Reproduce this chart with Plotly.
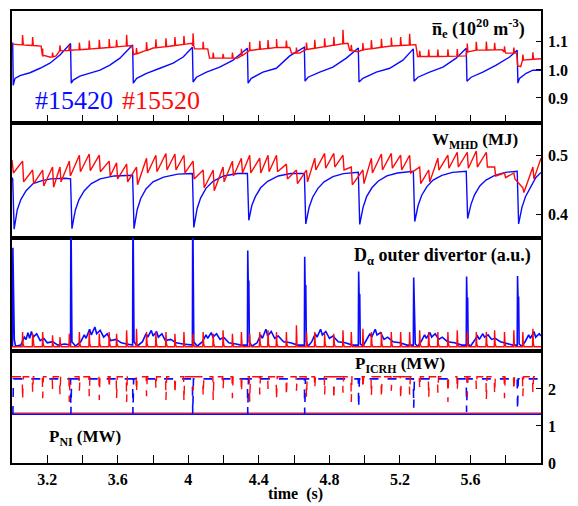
import numpy as np
import plotly.graph_objects as go
from plotly.subplots import make_subplots

# ---------------- data ----------------
# big ELM times of #15420 (blue)
elm_blue = [3.005, 3.334, 3.686, 4.025, 4.337, 4.660, 4.966, 5.278, 5.578, 5.867]
# small ELM times of #15520 (red)
elm_red = [3.060, 3.117, 3.174, 3.230, 3.272, 3.325, 3.382, 3.438, 3.495, 3.551,
           3.593, 3.650, 3.706, 3.763, 3.816, 3.873, 3.924, 3.975, 4.027, 4.084,
           4.141, 4.197, 4.250, 4.301, 4.348, 4.405, 4.452, 4.500, 4.556, 4.613,
           4.670, 4.717, 4.773, 4.825, 4.877, 4.924, 4.990, 5.038, 5.095, 5.151,
           5.204, 5.255, 5.312, 5.363, 5.415, 5.472, 5.525, 5.582, 5.633, 5.690,
           5.737, 5.793, 5.846, 5.897, 5.954]

# line-averaged density, #15420
ne_blue_t = [3.000, 3.004, 3.007, 3.017, 3.045, 3.102, 3.159, 3.215, 3.272, 3.332,
             3.336, 3.347, 3.385, 3.442, 3.499, 3.555, 3.612, 3.684,
             3.688, 3.707, 3.763, 3.839, 3.914, 3.971, 4.023,
             4.027, 4.046, 4.103, 4.178, 4.254, 4.335,
             4.339, 4.357, 4.423, 4.499, 4.575, 4.658,
             4.662, 4.679, 4.745, 4.820, 4.896, 4.964,
             4.968, 4.990, 5.066, 5.142, 5.217, 5.276,
             5.280, 5.302, 5.368, 5.444, 5.519, 5.576,
             5.580, 5.604, 5.670, 5.746, 5.822, 5.865,
             5.869, 5.878, 5.916, 5.954, 6.000]
ne_blue_v = [1.095, 1.095, 0.945, 0.970, 0.980, 0.990, 1.006, 1.024, 1.053, 1.094,
             0.953, 0.964, 0.978, 0.988, 0.999, 1.017, 1.042, 1.089,
             0.953, 0.970, 0.988, 1.006, 1.024, 1.046, 1.081,
             0.957, 0.974, 0.992, 1.010, 1.035, 1.077,
             0.953, 0.970, 0.992, 1.006, 1.050, 1.081,
             0.960, 0.974, 0.992, 1.010, 1.042, 1.078,
             0.957, 0.970, 0.992, 1.006, 1.035, 1.075,
             0.960, 0.974, 0.992, 1.010, 1.042, 1.077,
             0.960, 0.974, 0.992, 1.017, 1.046, 1.070,
             0.953, 0.970, 0.988, 0.999, 0.999]

# line-averaged density, #15520 (baseline + ELM spikes)
ne_red_t = [3.00, 3.09, 3.165, 3.175, 3.22, 3.25, 3.27, 3.33, 3.45, 3.55, 3.68, 3.69,
            3.72, 3.80, 3.90, 4.02, 4.035, 4.11, 4.12, 4.28, 4.30, 4.35, 4.50, 4.575,
            4.585, 4.63, 4.66, 4.75, 4.87, 4.905, 4.915, 4.96, 5.00, 5.15, 5.29, 5.30,
            5.45, 5.575, 5.585, 5.78, 5.80, 5.862, 5.868, 5.885, 5.895, 6.00]
ne_red_v = [1.092, 1.088, 1.085, 1.048, 1.045, 1.050, 1.068, 1.070, 1.075, 1.080, 1.087, 1.055,
            1.060, 1.078, 1.085, 1.095, 1.075, 1.075, 1.042, 1.042, 1.050, 1.070, 1.080, 1.080,
            1.060, 1.060, 1.072, 1.080, 1.093, 1.095, 1.070, 1.065, 1.073, 1.085, 1.090, 1.048,
            1.048, 1.050, 1.070, 1.072, 1.060, 1.060, 1.015, 1.012, 1.035, 1.040]
ne_red_spike = [0.035, 0.030, 0.025, 0.015, 0.020, 0.020, 0.025, 0.030, 0.030, 0.030,
                0.025, 0.040, 0.020, 0.030, 0.030, 0.030, 0.030, 0.030, 0.045, 0.025,
                0.020, 0.015, 0.020, 0.025, 0.030, 0.030, 0.030, 0.030, 0.025, 0.020,
                0.025, 0.030, 0.030, 0.030, 0.050, 0.020, 0.025, 0.030, 0.030, 0.030,
                0.030, 0.040, 0.020, 0.025, 0.025, 0.025, 0.025, 0.030, 0.030, 0.030,
                0.025, 0.020, 0.020, 0.020, 0.025]

# stored energy, #15420
w_blue_t = [3.000, 3.004, 3.012, 3.020, 3.030, 3.050, 3.080, 3.120, 3.170, 3.220, 3.300, 3.332,
            3.340, 3.350, 3.360, 3.380, 3.410, 3.450, 3.500, 3.580, 3.684,
            3.692, 3.700, 3.710, 3.730, 3.760, 3.800, 3.860, 3.940, 4.023,
            4.031, 4.040, 4.050, 4.070, 4.100, 4.140, 4.200, 4.280, 4.335,
            4.343, 4.350, 4.360, 4.380, 4.410, 4.450, 4.510, 4.580, 4.658,
            4.666, 4.675, 4.685, 4.705, 4.735, 4.770, 4.820, 4.880, 4.964,
            4.972, 4.981, 4.991, 5.011, 5.041, 5.076, 5.126, 5.186, 5.276,
            5.284, 5.293, 5.303, 5.323, 5.353, 5.388, 5.438, 5.498, 5.576,
            5.584, 5.593, 5.603, 5.623, 5.653, 5.688, 5.738, 5.798, 5.865,
            5.873, 5.882, 5.892, 5.912, 5.942, 5.970, 6.000]
w_blue_v = [0.462, 0.460, 0.375, 0.392, 0.408, 0.425, 0.440, 0.452, 0.457, 0.460, 0.461, 0.460,
            0.376, 0.393, 0.408, 0.425, 0.440, 0.452, 0.460, 0.465, 0.466,
            0.376, 0.393, 0.408, 0.427, 0.443, 0.455, 0.463, 0.468, 0.469,
            0.378, 0.395, 0.410, 0.428, 0.444, 0.456, 0.465, 0.469, 0.469,
            0.390, 0.403, 0.415, 0.430, 0.445, 0.456, 0.465, 0.469, 0.469,
            0.384, 0.398, 0.412, 0.429, 0.444, 0.455, 0.464, 0.469, 0.471,
            0.383, 0.398, 0.412, 0.430, 0.445, 0.456, 0.465, 0.470, 0.473,
            0.388, 0.402, 0.415, 0.432, 0.447, 0.458, 0.466, 0.471, 0.473,
            0.393, 0.405, 0.417, 0.433, 0.448, 0.458, 0.466, 0.471, 0.473,
            0.384, 0.398, 0.412, 0.430, 0.448, 0.462, 0.471]

# stored energy, #15520: value just before (peak) and after (trough) each small ELM
w_red_start = [0.492, 0.470]
w_red_peak = [0.490, 0.475, 0.475, 0.480, 0.480, 0.490, 0.500, 0.502, 0.500, 0.490,
              0.487, 0.485, 0.480, 0.495, 0.500, 0.503, 0.502, 0.500, 0.490, 0.475,
              0.475, 0.480, 0.490, 0.495, 0.500, 0.495, 0.500, 0.500, 0.485, 0.475,
              0.475, 0.495, 0.503, 0.503, 0.500, 0.480, 0.475, 0.495, 0.502, 0.503,
              0.500, 0.500, 0.480, 0.475, 0.495, 0.500, 0.505, 0.505, 0.507, 0.505,
              0.480, 0.470, 0.470, 0.445, 0.480]
w_red_trough = [0.455, 0.452, 0.448, 0.446, 0.455, 0.465, 0.472, 0.474, 0.472, 0.465,
                0.460, 0.455, 0.450, 0.470, 0.472, 0.475, 0.475, 0.470, 0.460, 0.445,
                0.440, 0.455, 0.465, 0.470, 0.470, 0.470, 0.472, 0.472, 0.460, 0.452,
                0.455, 0.475, 0.478, 0.480, 0.475, 0.450, 0.452, 0.470, 0.475, 0.478,
                0.475, 0.470, 0.452, 0.455, 0.475, 0.478, 0.480, 0.478, 0.480, 0.480,
                0.465, 0.462, 0.460, 0.437, 0.460]
w_red_end = 0.495

# D-alpha outer divertor, #15420 (a.u.)
da_blue_t = [3.000, 3.003, 3.005, 3.008, 3.010, 3.013, 3.020, 3.050, 3.070, 3.080, 3.090, 3.100,
             3.110, 3.120, 3.140, 3.160, 3.180, 3.200, 3.230, 3.260, 3.300, 3.332,
             3.334, 3.337, 3.340, 3.360, 3.390, 3.410, 3.420, 3.440, 3.450, 3.470, 3.480,
             3.500, 3.520, 3.540, 3.560, 3.590, 3.620, 3.650, 3.684,
             3.686, 3.689, 3.692, 3.710, 3.740, 3.760, 3.770, 3.790, 3.800, 3.820, 3.830,
             3.850, 3.870, 3.900, 3.930, 3.970, 4.023,
             4.025, 4.028, 4.031, 4.050, 4.080, 4.100, 4.110, 4.130, 4.140, 4.160, 4.180,
             4.200, 4.230, 4.270, 4.300, 4.335,
             4.337, 4.340, 4.343, 4.346, 4.360, 4.390, 4.410, 4.420, 4.440, 4.450, 4.470,
             4.490, 4.510, 4.540, 4.580, 4.620, 4.658,
             4.660, 4.663, 4.666, 4.669, 4.680, 4.700, 4.720, 4.730, 4.750, 4.760, 4.780,
             4.800, 4.820, 4.850, 4.890, 4.930, 4.964,
             4.966, 4.969, 4.972, 4.975, 4.990, 5.010, 5.030, 5.040, 5.060, 5.070, 5.090,
             5.110, 5.130, 5.160, 5.200, 5.240, 5.276,
             5.278, 5.281, 5.284, 5.287, 5.300, 5.320, 5.340, 5.350, 5.370, 5.380, 5.400,
             5.420, 5.440, 5.470, 5.510, 5.550, 5.576,
             5.578, 5.581, 5.584, 5.587, 5.600, 5.620, 5.640, 5.650, 5.670, 5.680, 5.700,
             5.720, 5.740, 5.770, 5.810, 5.840, 5.865,
             5.867, 5.870, 5.873, 5.876, 5.890, 5.910, 5.930, 5.940, 5.960, 5.970, 5.990, 6.000]
da_blue_v = [0.050, 0.050, 0.910, 0.600, 0.660, 0.100, 0.040, 0.050, 0.120, 0.100, 0.160, 0.110,
             0.170, 0.120, 0.150, 0.090, 0.110, 0.070, 0.080, 0.050, 0.060, 0.050,
             1.300, 0.700, 0.080, 0.040, 0.080, 0.140, 0.110, 0.190, 0.140, 0.210, 0.150,
             0.180, 0.120, 0.150, 0.090, 0.100, 0.070, 0.060, 0.050,
             1.300, 0.700, 0.080, 0.040, 0.080, 0.150, 0.120, 0.180, 0.130, 0.170, 0.120,
             0.150, 0.090, 0.100, 0.070, 0.060, 0.050,
             1.300, 0.700, 0.080, 0.040, 0.080, 0.140, 0.110, 0.160, 0.120, 0.150, 0.100,
             0.120, 0.070, 0.060, 0.050, 0.050,
             0.885, 0.550, 0.620, 0.080, 0.040, 0.070, 0.140, 0.110, 0.190, 0.130, 0.170,
             0.110, 0.130, 0.080, 0.070, 0.050, 0.050,
             0.830, 0.500, 0.580, 0.080, 0.040, 0.080, 0.150, 0.120, 0.190, 0.140, 0.170,
             0.110, 0.130, 0.080, 0.070, 0.050, 0.050,
             0.700, 0.450, 0.500, 0.060, 0.040, 0.090, 0.150, 0.120, 0.190, 0.140, 0.160,
             0.100, 0.120, 0.080, 0.070, 0.050, 0.050,
             0.646, 0.420, 0.460, 0.060, 0.040, 0.080, 0.140, 0.110, 0.160, 0.120, 0.150,
             0.100, 0.120, 0.080, 0.070, 0.050, 0.050,
             0.655, 0.420, 0.470, 0.060, 0.040, 0.080, 0.130, 0.100, 0.150, 0.120, 0.140,
             0.100, 0.110, 0.080, 0.060, 0.050, 0.050,
             0.660, 0.440, 0.480, 0.060, 0.040, 0.080, 0.140, 0.110, 0.170, 0.120, 0.150, 0.130]

# D-alpha, #15520: spike heights at its small ELMs, and the baseline
da_red_base = 0.035
da_red_peak = [0.165, 0.150, 0.165, 0.136, 0.120, 0.150, 0.165, 0.165, 0.150, 0.165,
               0.150, 0.180, 0.195, 0.165, 0.165, 0.165, 0.150, 0.165, 0.150, 0.165,
               0.150, 0.180, 0.150, 0.165, 0.150, 0.165, 0.180, 0.165, 0.165, 0.224,
               0.165, 0.165, 0.150, 0.150, 0.180, 0.165, 0.195, 0.165, 0.165, 0.165,
               0.165, 0.165, 0.180, 0.165, 0.165, 0.165, 0.180, 0.165, 0.165, 0.165,
               0.180, 0.165, 0.180, 0.165, 0.195]

# heating powers (MW)
p_ni_blue = 1.32
p_ni_red = 1.35
p_icrh_blue_level = 2.27
p_icrh_blue_dip = [1.33, 1.33, 1.33, 1.33, 1.33, 1.49, 1.49, 1.38, 1.43]   # at elm_blue[1:]
p_icrh_red_level = 2.33
p_icrh_red_dip = [1.70, 1.90, 1.75, 2.00, 1.85, 1.65, 1.95, 1.80, 1.70, 2.00,
                  1.75, 1.65, 1.90, 1.80, 2.00, 1.70, 1.85, 1.65, 1.95, 1.80,
                  1.70, 2.00, 1.75, 1.90, 1.65, 1.85, 2.00, 1.70, 1.80, 1.95,
                  1.75, 2.00, 1.85, 1.70, 1.90, 1.65, 2.00, 1.80, 1.75, 1.95,
                  1.70, 1.85, 2.00, 1.75, 1.90, 1.65, 1.95, 1.80, 2.00, 1.70,
                  1.85, 1.75, 1.95, 1.80, 1.90]

x_ticks = [3.2, 3.4, 3.6, 3.8, 4.0, 4.2, 4.4, 4.6, 4.8, 5.0, 5.2, 5.4, 5.6, 5.8]
x_tick_text = ["3.2", "", "3.6", "", "4", "", "4.4", "", "4.8", "", "5.2", "", "5.6", ""]

# ---------------- build traces ----------------
BLUE = "#0a0aff"
RED = "#ff0a0a"


def with_spikes(bt, bv, times, heights, before=0.002, after=0.004):
    """insert narrow spikes of given heights on top of a baseline"""
    pts = list(zip(bt, bv))
    for t, h in zip(times, heights):
        b = float(np.interp(t, bt, bv))
        pts += [(t - before, b), (t, b + h), (t + after, b)]
    pts.sort(key=lambda p: p[0])
    return [p[0] for p in pts], [p[1] for p in pts]


ne_r_x, ne_r_y = with_spikes(ne_red_t, ne_red_v, elm_red, ne_red_spike)

w_r_x = [3.000, 3.008]
w_r_y = list(w_red_start)
for t, pk, tr in zip(elm_red, w_red_peak, w_red_trough):
    w_r_x += [t, t + 0.006]
    w_r_y += [pk, tr]
w_r_x.append(6.0)
w_r_y.append(w_red_end)

da_r_x, da_r_y = [3.0], [da_red_base]
for t, h in zip(elm_red, da_red_peak):
    da_r_x += [t - 0.002, t, t + 0.003, t + 0.008]
    da_r_y += [da_red_base, h, 0.06, da_red_base]
da_r_x.append(6.0)
da_r_y.append(da_red_base)

ic_r_x, ic_r_y = [3.0], [p_icrh_red_level]
for t, d in zip(elm_red, p_icrh_red_dip):
    ic_r_x += [t - 0.002, t, t + 0.004]
    ic_r_y += [p_icrh_red_level, d, p_icrh_red_level]
ic_r_x.append(6.0)
ic_r_y.append(p_icrh_red_level)

ic_b_x, ic_b_y = [3.0, elm_blue[0], elm_blue[0] + 0.003], [p_ni_blue, p_ni_blue, p_icrh_blue_level]
for t, d in zip(elm_blue[1:], p_icrh_blue_dip):
    ic_b_x += [t - 0.002, t, t + 0.004]
    ic_b_y += [p_icrh_blue_level, d, p_icrh_blue_level]
ic_b_x.append(6.0)
ic_b_y.append(p_icrh_blue_level)

fig = make_subplots(rows=4, cols=1, shared_xaxes=True, vertical_spacing=0,
                    row_heights=[112, 114, 113, 112])

lw = 1.4
fig.add_trace(go.Scatter(x=ne_blue_t, y=ne_blue_v, mode="lines", line=dict(color=BLUE, width=lw)), 1, 1)
fig.add_trace(go.Scatter(x=ne_r_x, y=ne_r_y, mode="lines", line=dict(color=RED, width=lw)), 1, 1)
fig.add_trace(go.Scatter(x=w_blue_t, y=w_blue_v, mode="lines", line=dict(color=BLUE, width=lw)), 2, 1)
fig.add_trace(go.Scatter(x=w_r_x, y=w_r_y, mode="lines", line=dict(color=RED, width=lw)), 2, 1)
fig.add_trace(go.Scatter(x=da_blue_t, y=da_blue_v, mode="lines", line=dict(color=BLUE, width=1.6)), 3, 1)
fig.add_trace(go.Scatter(x=da_r_x, y=da_r_y, mode="lines", line=dict(color=RED, width=lw)), 3, 1)
fig.add_trace(go.Scatter(x=[3.0, 6.0], y=[p_ni_blue, p_ni_blue], mode="lines", line=dict(color=BLUE, width=1.6)), 4, 1)
fig.add_trace(go.Scatter(x=[3.0, 6.0], y=[p_ni_red, p_ni_red], mode="lines", line=dict(color=RED, width=1.2)), 4, 1)
fig.add_trace(go.Scatter(x=ic_b_x, y=ic_b_y, mode="lines", line=dict(color=BLUE, width=1.6, dash="dash")), 4, 1)
fig.add_trace(go.Scatter(x=ic_r_x, y=ic_r_y, mode="lines", line=dict(color=RED, width=1.4, dash="dash")), 4, 1)

FONT = "Liberation Serif"
axis_common = dict(showline=True, mirror=True, linecolor="black", linewidth=1.6,
                   showgrid=False, zeroline=False, automargin=False)
for r in range(1, 5):
    xa = dict(axis_common, range=[3.0, 6.0])
    if r in (1, 4):
        xa.update(ticks="inside", ticklen=8, tickwidth=1.2, tickcolor="black",
                  tickmode="array", tickvals=x_ticks, ticktext=x_tick_text)
    else:
        xa.update(ticks="", showticklabels=False)
    fig.update_xaxes(xa, row=r, col=1)

fig.update_xaxes(showticklabels=True, ticklabelstandoff=1,
                 tickfont=dict(family=FONT, size=16, color="black", weight="bold"),
                 row=4, col=1)
fig.update_xaxes(showticklabels=False, row=1, col=1)

ytick_font = dict(family=FONT, size=16, color="black", weight="bold")
fig.update_yaxes(axis_common, side="right", ticks="inside", ticklen=5, tickcolor="black",
                 tickfont=ytick_font, ticklabelstandoff=2)
fig.update_yaxes(range=[0.81, 1.21], tickvals=[0.9, 1.0, 1.1], ticktext=["0.9", "1.0", "1.1"], row=1, col=1)
fig.update_yaxes(range=[0.361, 0.554], tickvals=[0.4, 0.5], ticktext=["0.4", "0.5"], row=2, col=1)
fig.update_yaxes(range=[0.0, 1.0], ticks="", showticklabels=False, row=3, col=1)
fig.update_yaxes(range=[0.0, 3.03], tickvals=[0, 1, 2], ticktext=["0", "1", "2"], row=4, col=1)

ann = [
    dict(x=0.9735, y=0.962, xanchor="right", yanchor="middle",
         text="<b>n\u0305<sub>e</sub> (10<sup>20</sup> m<sup>-3</sup>)</b>",
         font=dict(family=FONT, size=18, color="black")),
    dict(x=0.960, y=0.712, xanchor="right", yanchor="middle",
         text="<b>W<sub>MHD</sub> (MJ)</b>", font=dict(family=FONT, size=17, color="black")),
    dict(x=0.985, y=0.456, xanchor="right", yanchor="middle",
         text="<b>D<sub>\u03b1</sub> outer divertor (a.u.)</b>",
         font=dict(family=FONT, size=18, color="black")),
    dict(x=0.822, y=0.217, xanchor="right", yanchor="middle",
         text="<b>P<sub>ICRH</sub> (MW)</b>", font=dict(family=FONT, size=17, color="black")),
    dict(x=0.066, y=0.055, xanchor="left", yanchor="middle",
         text="<b>P<sub>NI</sub> (MW)</b>", font=dict(family=FONT, size=17, color="black")),
    dict(x=0.040, y=0.803, xanchor="left", yanchor="middle",
         text="#15420", font=dict(family=FONT, size=26, color=BLUE)),
    dict(x=0.204, y=0.803, xanchor="left", yanchor="middle",
         text="#15520", font=dict(family=FONT, size=26, color=RED)),
    dict(x=0.535, y=-0.068, xanchor="center", yanchor="middle",
         text="<b>time  (s)</b>", font=dict(family=FONT, size=16, color="black")),
]
for a in ann:
    a.update(showarrow=False, xref="paper", yref="paper")
fig.update_layout(annotations=ann)

# the page adds an 8 px body margin, so the figure is sized to fit the window
fig.update_layout(width=570, height=498, margin=dict(l=4, r=37, t=3, b=43, autoexpand=False),
                  showlegend=False, plot_bgcolor="white", paper_bgcolor="white")

fig.write_html("out.html")
